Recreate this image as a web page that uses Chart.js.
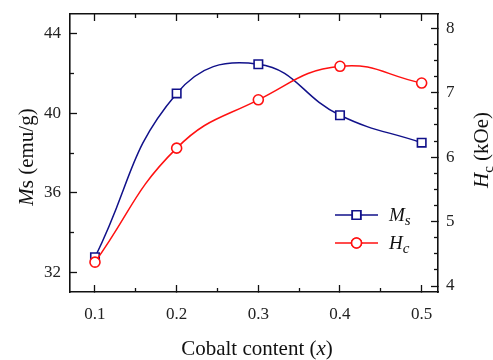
<!DOCTYPE html>
<html>
<head>
<meta charset="utf-8">
<script src="https://cdn.jsdelivr.net/npm/chart.js@4.4.1/dist/chart.umd.min.js"></script>
<style>
  html, body { margin: 0; padding: 0; background: #fff; }
  canvas { display: block; }
</style>
</head>
<body>
<canvas id="c" width="493" height="360"></canvas>
<script>
// ---- data ----
const cobalt = [0.1, 0.2, 0.3, 0.4, 0.5];
const msValues = [32.75, 41.0, 42.47, 39.9, 38.52];   // emu/g
const hcValues = [4.37, 6.14, 6.89, 7.41, 7.15];      // kOe

// ---- tick values ----
const xMajorTicks = [0.1, 0.2, 0.3, 0.4, 0.5];
const xMinorTicks = [0.15, 0.25, 0.35, 0.45];
const msMajorTicks = [32, 36, 40, 44];
const msMinorTicks = [34, 38, 42];
const hcMajorTicks = [4, 5, 6, 7, 8];
const hcMinorTicks = [4.25, 4.5, 4.75, 5.25, 5.5, 5.75, 6.25, 6.5, 6.75, 7.25, 7.5, 7.75];

const xRange = [0.0694, 0.52];
const msRange = [31, 45];
const hcRange = [3.907, 8.222];

const SERIF = '"Liberation Serif", "Times New Roman", serif';
const MS_COLOR = '#11118a';
const HC_COLOR = '#ff1111';
const AXIS_COLOR = '#111';

const setTicks = arr => scale => { scale.ticks = arr.map(v => ({ value: v })); };

function axis(opts) {
  return {
    type: 'linear',
    position: opts.position,
    min: opts.range[0],
    max: opts.range[1],
    bounds: 'data',
    weight: opts.minor ? 0 : 10,
    afterBuildTicks: setTicks(opts.ticks),
    afterFit: s => {
      if (s.isHorizontal()) s.height = opts.size; else s.width = opts.size;
      s.paddingTop = 0; s.paddingBottom = 0; s.paddingLeft = 0; s.paddingRight = 0;
    },
    grid: {
      drawOnChartArea: false,
      drawTicks: true,
      tickLength: opts.minor ? -4 : -7,
      tickWidth: 1.3,
      tickColor: AXIS_COLOR
    },
    border: { display: !opts.minor, color: AXIS_COLOR, width: 1.6 },
    ticks: {
      display: !!opts.labels,
      autoSkip: false,
      maxRotation: 0,
      color: '#222',
      font: { family: SERIF, size: 17 },
      padding: opts.padding || 0,
      callback: opts.fmt || (v => v)
    }
  };
}

const titlesPlugin = {
  id: 'titles',
  afterDraw(chart) {
    const ctx = chart.ctx;
    ctx.save();
    ctx.fillStyle = '#111';
    ctx.textBaseline = 'alphabetic';

    function runs(parts) {
      let w = 0;
      parts.forEach(p => { ctx.font = p.font; p.w = ctx.measureText(p.text).width; w += p.w; });
      return w;
    }
    function drawRuns(parts, x, y) {
      let cx = x;
      parts.forEach(p => { ctx.font = p.font; ctx.fillText(p.text, cx, y + (p.dy || 0)); cx += p.w; });
    }

    // x title
    const xt = [
      { text: 'Cobalt content (', font: '21px ' + SERIF },
      { text: 'x', font: 'italic 21px ' + SERIF },
      { text: ')', font: '21px ' + SERIF }
    ];
    let w = runs(xt);
    drawRuns(xt, 257 - w / 2, 355);

    // left title
    const lt = [
      { text: 'M', font: 'italic 21px ' + SERIF },
      { text: 's (emu/g)', font: '21px ' + SERIF }
    ];
    ctx.save();
    ctx.translate(33, 157);
    ctx.rotate(-Math.PI / 2);
    w = runs(lt);
    drawRuns(lt, -w / 2, 0);
    ctx.restore();

    // right title
    const rt = [
      { text: 'H', font: 'italic 21px ' + SERIF },
      { text: 'c', font: '15px ' + SERIF, dy: 5 },
      { text: ' (kOe)', font: '21px ' + SERIF }
    ];
    ctx.save();
    ctx.translate(488, 150);
    ctx.rotate(-Math.PI / 2);
    w = runs(rt);
    drawRuns(rt, -w / 2, 0);
    ctx.restore();

    // legend
    const items = [
      { y: 215, color: MS_COLOR, style: 'rect', r: 6, main: 'M', sub: 's' },
      { y: 243, color: HC_COLOR, style: 'circle', r: 5, main: 'H', sub: 'c' }
    ];
    items.forEach(it => {
      ctx.strokeStyle = it.color;
      ctx.lineWidth = 1.5;
      ctx.beginPath();
      ctx.moveTo(335, it.y);
      ctx.lineTo(378, it.y);
      ctx.stroke();
      ctx.fillStyle = '#fff';
      ctx.lineWidth = 1.6;
      Chart.helpers.drawPoint(ctx, { pointStyle: it.style, radius: it.r, borderWidth: 1.6, rotation: 0 }, 356.5, it.y);
      ctx.fill();
      ctx.stroke();
      ctx.fillStyle = '#111';
      const parts = [
        { text: it.main, font: 'italic 19px ' + SERIF },
        { text: it.sub, font: 'italic 15px ' + SERIF, dy: 4 }
      ];
      runs(parts);
      drawRuns(parts, 389, it.y + 6);
    });
    ctx.restore();
  }
};

new Chart(document.getElementById('c'), {
  type: 'line',
  data: {
    datasets: [
      {
        label: 'Ms',
        data: cobalt.map((x, i) => ({ x, y: msValues[i] })),
        xAxisID: 'x',
        yAxisID: 'y',
        order: 2,
        borderColor: MS_COLOR,
        borderWidth: 1.5,
        tension: 0.45,
        pointStyle: 'rect',
        pointRadius: 6,
        pointBorderWidth: 1.6,
        pointBackgroundColor: '#fff',
        pointBorderColor: MS_COLOR
      },
      {
        label: 'Hc',
        data: cobalt.map((x, i) => ({ x, y: hcValues[i] })),
        xAxisID: 'x',
        yAxisID: 'y2',
        order: 1,
        borderColor: HC_COLOR,
        borderWidth: 1.5,
        tension: 0.45,
        pointStyle: 'circle',
        pointRadius: 5,
        pointBorderWidth: 1.6,
        pointBackgroundColor: '#fff',
        pointBorderColor: HC_COLOR
      }
    ]
  },
  options: {
    responsive: false,
    animation: false,
    layout: { padding: 0 },
    plugins: { legend: { display: false }, tooltip: { enabled: false } },
    scales: {
      x: axis({ position: 'bottom', range: xRange, ticks: xMajorTicks, size: 68, labels: true, padding: 19, fmt: v => v.toFixed(1) }),
      xMinor: axis({ position: 'bottom', range: xRange, ticks: xMinorTicks, size: 0, minor: true }),
      xTop: axis({ position: 'top', range: xRange, ticks: xMajorTicks, size: 14 }),
      xTopMinor: axis({ position: 'top', range: xRange, ticks: xMinorTicks, size: 0, minor: true }),
      y: axis({ position: 'left', range: msRange, ticks: msMajorTicks, size: 70, labels: true, padding: 16 }),
      yMinor: axis({ position: 'left', range: msRange, ticks: msMinorTicks, size: 0, minor: true }),
      y2: axis({ position: 'right', range: hcRange, ticks: hcMajorTicks, size: 55, labels: true, padding: 15 }),
      y2Minor: axis({ position: 'right', range: hcRange, ticks: hcMinorTicks, size: 0, minor: true })
    }
  },
  plugins: [titlesPlugin]
});
</script>
</body>
</html>
